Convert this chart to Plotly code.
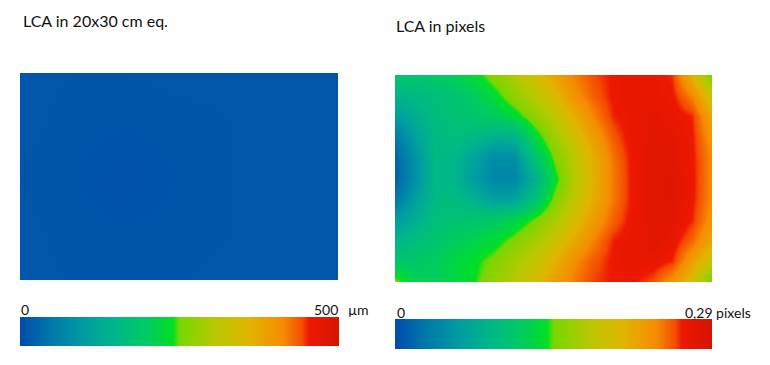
import plotly.graph_objects as go

W, H = 770, 365
OFF = 8                      # page body margin added by the browser
FW, FH = W - OFF, H - OFF    # figure size that fits the window

# ---------------- data ----------------
TITLE_LEFT = "LCA in 20x30 cm eq."
TITLE_RIGHT = "LCA in pixels"

# left map: LCA in micrometres on a 20x30 cm equivalent (nearly uniform)
LEFT_X_CM = [0, 5, 10, 15, 20, 25, 30]
LEFT_Y_CM = [0, 5, 10, 15, 20]
LEFT_Z_UM = [
    [12, 11, 11, 12, 12, 13, 13],
    [12, 10, 9, 10, 11, 12, 13],
    [11, 9, 7, 9, 11, 12, 13],
    [12, 10, 9, 10, 11, 12, 13],
    [12, 11, 11, 11, 12, 13, 13],
]
LEFT_MIN, LEFT_MAX = 0, 500
LEFT_MIN_LABEL, LEFT_MAX_LABEL, LEFT_UNIT = "0", "500", "µm"

# right map: LCA in pixels (rows top -> bottom)
RIGHT_X_CM = [0, 1.875, 3.75, 5.625, 7.5, 9.375, 11.25, 13.125, 15,
              16.875, 18.75, 20.625, 22.5, 24.375, 26.25, 28.125, 30]
RIGHT_Y_CM = [0, 2, 4, 6, 8, 10, 12, 14, 16, 18, 20]
RIGHT_Z_PX = [
    [0.107, 0.107, 0.113, 0.122, 0.133, 0.153, 0.173, 0.194, 0.223, 0.242, 0.256, 0.264, 0.269, 0.266, 0.260, 0.211, 0.139],
    [0.084, 0.090, 0.096, 0.104, 0.116, 0.133, 0.157, 0.177, 0.202, 0.233, 0.251, 0.264, 0.270, 0.269, 0.264, 0.241, 0.189],
    [0.058, 0.078, 0.093, 0.102, 0.107, 0.116, 0.131, 0.157, 0.181, 0.212, 0.241, 0.261, 0.269, 0.275, 0.268, 0.261, 0.218],
    [0.029, 0.064, 0.090, 0.096, 0.090, 0.078, 0.081, 0.128, 0.163, 0.191, 0.227, 0.253, 0.268, 0.278, 0.274, 0.263, 0.232],
    [0.015, 0.052, 0.090, 0.087, 0.065, 0.046, 0.046, 0.100, 0.146, 0.178, 0.215, 0.246, 0.266, 0.278, 0.277, 0.264, 0.238],
    [0.012, 0.049, 0.090, 0.084, 0.060, 0.040, 0.040, 0.078, 0.133, 0.173, 0.211, 0.244, 0.265, 0.278, 0.280, 0.265, 0.238],
    [0.029, 0.064, 0.090, 0.093, 0.081, 0.064, 0.066, 0.100, 0.148, 0.181, 0.215, 0.245, 0.265, 0.278, 0.280, 0.264, 0.238],
    [0.058, 0.078, 0.096, 0.104, 0.107, 0.113, 0.125, 0.145, 0.170, 0.197, 0.228, 0.251, 0.267, 0.278, 0.275, 0.261, 0.232],
    [0.087, 0.096, 0.107, 0.116, 0.125, 0.133, 0.150, 0.169, 0.189, 0.218, 0.242, 0.262, 0.269, 0.278, 0.268, 0.249, 0.218],
    [0.107, 0.110, 0.116, 0.128, 0.136, 0.150, 0.168, 0.185, 0.211, 0.237, 0.253, 0.264, 0.271, 0.268, 0.261, 0.226, 0.186],
    [0.151, 0.122, 0.119, 0.128, 0.139, 0.158, 0.176, 0.197, 0.226, 0.243, 0.258, 0.263, 0.263, 0.255, 0.232, 0.197, 0.139],
]
RIGHT_MIN, RIGHT_MAX = 0, 0.29
RIGHT_MIN_LABEL, RIGHT_MAX_LABEL = "0", "0,29 pixels"

COLORSCALE = [
    [0.00, "rgb(0,75,170)"],
    [0.09, "rgb(0,118,170)"],
    [0.20, "rgb(0,155,162)"],
    [0.30, "rgb(0,183,135)"],
    [0.40, "rgb(0,203,95)"],
    [0.48, "rgb(0,224,35)"],
    [0.50, "rgb(120,214,0)"],
    [0.615, "rgb(185,200,0)"],
    [0.72, "rgb(225,180,0)"],
    [0.825, "rgb(245,140,0)"],
    [0.885, "rgb(245,75,0)"],
    [0.905, "rgb(238,24,0)"],
    [1.00, "rgb(214,20,0)"],
]

# ---------------- layout helpers ----------------
def px_x(x):
    return (x - OFF) / FW

def px_y(y):
    return 1 - (y - OFF) / FH

FONT = "Lato, 'Open Sans', sans-serif"
TXT = "#111111"

LEFT_BOX = (20, 338, 73, 280)
RIGHT_BOX = (395, 712, 75, 282)
LEFT_CB = (20, 339, 317, 346)
RIGHT_CB = (395, 712, 319, 349)


def cbar(box):
    x0, x1, y0, y1 = box
    return dict(
        orientation="h",
        x=px_x(x0), xanchor="left", xref="paper",
        y=px_y(y0), yanchor="top", yref="paper",
        lenmode="pixels", len=x1 - x0,
        thicknessmode="pixels", thickness=y1 - y0,
        xpad=0, ypad=0, outlinewidth=0, borderwidth=0,
        showticklabels=False, ticks="",
    )


fig = go.Figure()
fig.add_trace(go.Heatmap(
    x=LEFT_X_CM, y=LEFT_Y_CM, z=LEFT_Z_UM,
    zmin=LEFT_MIN, zmax=LEFT_MAX, colorscale=COLORSCALE, zsmooth="best",
    xaxis="x", yaxis="y", colorbar=cbar(LEFT_CB), hoverinfo="skip",
))
fig.add_trace(go.Heatmap(
    x=RIGHT_X_CM, y=RIGHT_Y_CM, z=RIGHT_Z_PX,
    zmin=RIGHT_MIN, zmax=RIGHT_MAX, colorscale=COLORSCALE, zsmooth="best",
    xaxis="x2", yaxis="y2", colorbar=cbar(RIGHT_CB), hoverinfo="skip",
))

ax_common = dict(visible=False, showgrid=False, zeroline=False, fixedrange=True)

fig.update_layout(
    width=FW, height=FH,
    margin=dict(l=0, r=0, t=0, b=0),
    paper_bgcolor="white", plot_bgcolor="white",
    showlegend=False,
    xaxis=dict(domain=[px_x(LEFT_BOX[0]), px_x(LEFT_BOX[1])], range=[0, 30], anchor="y", **ax_common),
    yaxis=dict(domain=[px_y(LEFT_BOX[3]), px_y(LEFT_BOX[2])], range=[20, 0], anchor="x", **ax_common),
    xaxis2=dict(domain=[px_x(RIGHT_BOX[0]), px_x(RIGHT_BOX[1])], range=[0, 30], anchor="y2", **ax_common),
    yaxis2=dict(domain=[px_y(RIGHT_BOX[3]), px_y(RIGHT_BOX[2])], range=[20, 0], anchor="x2", **ax_common),
)


def label(text, x, y, size, xanchor="left"):
    fig.add_annotation(
        text=text, x=px_x(x), y=px_y(y), xref="paper", yref="paper",
        xanchor=xanchor, yanchor="middle", showarrow=False,
        font=dict(family=FONT, size=size, color=TXT), borderpad=0,
    )


label(TITLE_LEFT, 22, 20.5, 16)
label(TITLE_RIGHT, 395, 25, 16)
label(LEFT_MIN_LABEL, 20, 309, 14)
label(LEFT_MAX_LABEL, 339, 309, 14, xanchor="right")
label(LEFT_UNIT, 347, 309, 14)
label(RIGHT_MIN_LABEL, 396, 312, 14)
label(RIGHT_MAX_LABEL, 684, 312, 14)

fig.write_html("out.html")
